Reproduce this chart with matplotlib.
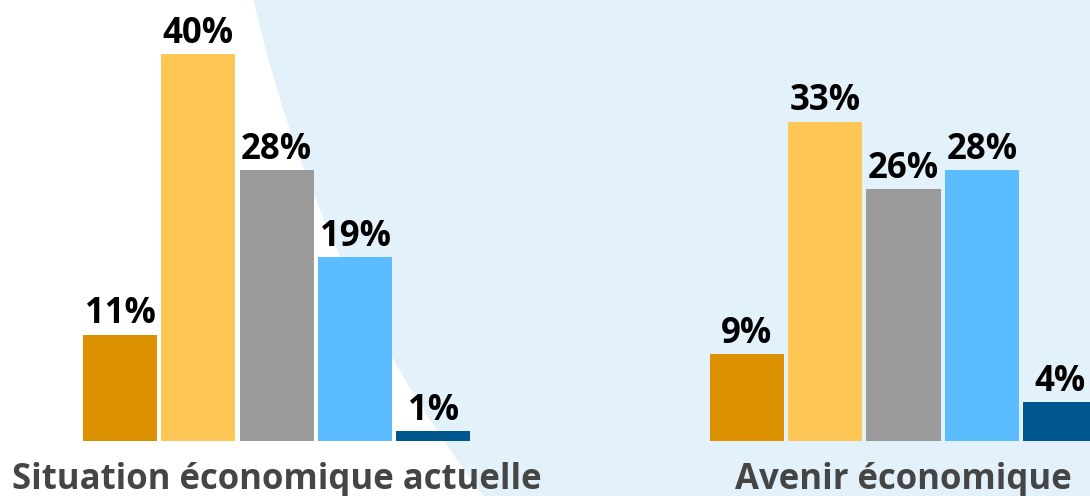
import matplotlib.pyplot as plt
from matplotlib.patches import Circle

plt.rcParams['font.family'] = ['Open Sans', 'DejaVu Sans']

groups = ['Situation économique actuelle', 'Avenir économique']
actuelle = [11, 40, 28, 19, 1]
avenir = [9, 33, 26, 28, 4]
colors = ['#DC9200', '#FEC654', '#9A9A9A', '#5BBDFF', '#00578F']

fig = plt.figure(figsize=(10.9, 4.96), dpi=100)
fig.patch.set_facecolor('white')

# background decoration: big light-blue disc in figure pixel space
bg = fig.add_axes([0, 0, 1, 1])
bg.set_xlim(0, 1090)
bg.set_ylim(496, 0)
bg.axis('off')
bg.add_patch(Circle((1516, -284), 1294, color='#E3F1FB', lw=0))

ax = fig.add_axes([0, 0, 1, 1])
ax.patch.set_alpha(0)
ax.axis('off')

pitch = 78.35
ax.set_xlim(-120 / pitch, (1090 - 120) / pitch)
ax.set_ylim(-(496 - 441) / 9.68, 441 / 9.68)

for g, vals in enumerate([actuelle, avenir]):
    xs = [g * 8 + i for i in range(len(vals))]
    bars = ax.bar(xs, vals, width=0.945, color=colors, lw=0)
    for x, v in zip(xs, vals):
        ax.annotate(f'{v}%', (x, v), xytext=(0, 8), textcoords='offset points',
                    ha='center', va='baseline', fontsize=25, fontweight='bold',
                    color='black')
    ax.annotate(groups[g], (xs[2], 0), xytext=(0, -34.5), textcoords='offset points',
                ha='center', va='baseline', fontsize=25, fontweight='bold',
                color='#454545')

fig.savefig('out.png', dpi=100)
